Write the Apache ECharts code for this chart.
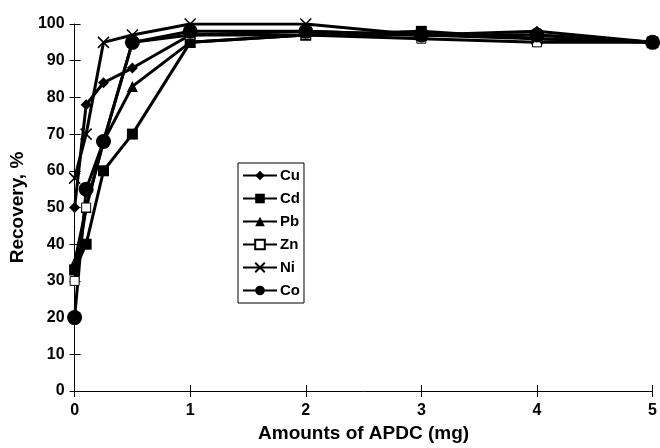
<!DOCTYPE html>
<html>
<head>
<meta charset="utf-8">
<script src="https://cdn.jsdelivr.net/npm/echarts@6/dist/echarts.min.js"></script>
<style>
  html, body { margin: 0; padding: 0; background: #fff; }
  #chart { width: 660px; height: 448px; }
</style>
</head>
<body>
<div id="chart"></div>
<script>
const apdc = [0, 0.1, 0.25, 0.5, 1, 2, 3, 4, 5];

const cu = [50, 78, 84, 88, 97, 98, 97, 98, 95];
const cd = [33, 40, 60, 70, 95, 97, 98, 96, 95];
const pb = [35, 50, 68, 83, 95, 97, 97, 97, 95];
const zn = [30, 50, 68, 95, 97, 97, 96, 95, 95];
const ni = [58, 70, 95, 97, 100, 100, 97, 96, 95];
const co = [20, 55, 68, 95, 98, 98, 97, 97, 95];

const font = 'Liberation Sans, Arial, sans-serif';
const crossPath = 'path://M0,0L10,10M10,0L0,10';

const chart = echarts.init(document.getElementById('chart'));

const pairs = vals => vals.map((v, i) => [apdc[i], v]);

function makeSeries(name, vals, symbol, size, extra) {
  return Object.assign({
    name: name,
    type: 'line',
    data: pairs(vals),
    symbol: symbol,
    symbolSize: size,
    showSymbol: true,
    lineStyle: { color: '#000', width: 3 },
    itemStyle: { color: '#000' },
    animation: false,
    z: 3
  }, extra || {});
}

const axisLabelStyle = { color: '#000', fontFamily: font, fontWeight: 'bold', fontSize: 16 };

const option = {
  backgroundColor: '#fff',
  grid: { left: 73, right: 5, top: 24, bottom: 54 },
  legend: {
    orient: 'vertical',
    left: 238,
    top: 163,
    itemWidth: 34,
    itemHeight: 12,
    itemGap: 8,
    padding: [5, 4, 5, 4],
    borderColor: '#000',
    borderWidth: 1,
    backgroundColor: '#fff',
    textStyle: {
      color: '#000', fontFamily: font, fontWeight: 'bold', fontSize: 15,
      lineHeight: 15, padding: [0, 0, 0, -2]
    },
    data: ['Cu', 'Cd', 'Pb', 'Zn', 'Ni', 'Co']
  },
  xAxis: [{
    type: 'value',
    min: 0,
    max: 5,
    interval: 1,
    name: 'Amounts of APDC (mg)',
    nameLocation: 'middle',
    nameGap: 33,
    nameTextStyle: { color: '#000', fontFamily: font, fontWeight: 'bold', fontSize: 19 },
    axisLine: { show: true, lineStyle: { color: '#000', width: 1 } },
    axisTick: { show: true, length: 6, lineStyle: { color: '#000' } },
    axisLabel: Object.assign({ margin: 12 }, axisLabelStyle),
    splitLine: { show: false }
  }, {
    type: 'value',
    position: 'bottom',
    min: 0,
    max: 5,
    interval: 1,
    axisLine: { show: false },
    axisTick: { show: true, inside: true, length: 6, lineStyle: { color: '#000' } },
    axisLabel: { show: false },
    splitLine: { show: false }
  }],
  yAxis: [{
    type: 'value',
    min: 0,
    max: 100,
    interval: 10,
    name: 'Recovery, %',
    nameLocation: 'middle',
    nameGap: 44,
    nameTextStyle: { color: '#000', fontFamily: font, fontWeight: 'bold', fontSize: 19 },
    axisLine: { show: true, lineStyle: { color: '#000', width: 1 } },
    axisTick: { show: true, length: 5, lineStyle: { color: '#000' } },
    axisLabel: Object.assign({ margin: 10 }, axisLabelStyle),
    splitLine: { show: false }
  }, {
    type: 'value',
    position: 'left',
    min: 0,
    max: 100,
    interval: 10,
    axisLine: { show: false },
    axisTick: { show: true, inside: true, length: 6, lineStyle: { color: '#000' } },
    axisLabel: { show: false },
    splitLine: { show: false }
  }],
  series: [
    makeSeries('Cu', cu, 'diamond', 11),
    makeSeries('Cd', cd, 'rect', 11),
    makeSeries('Pb', pb, 'triangle', 11),
    makeSeries('Zn', zn, 'rect', 9, {
      itemStyle: { color: '#fff', borderColor: '#000', borderWidth: 1 }
    }),
    makeSeries('Ni', ni, crossPath, 11, {
      itemStyle: { color: '#000', borderColor: '#000', borderWidth: 1.5 }
    }),
    makeSeries('Co', co, 'circle', 15)
  ]
};

chart.setOption(option);
</script>
</body>
</html>
